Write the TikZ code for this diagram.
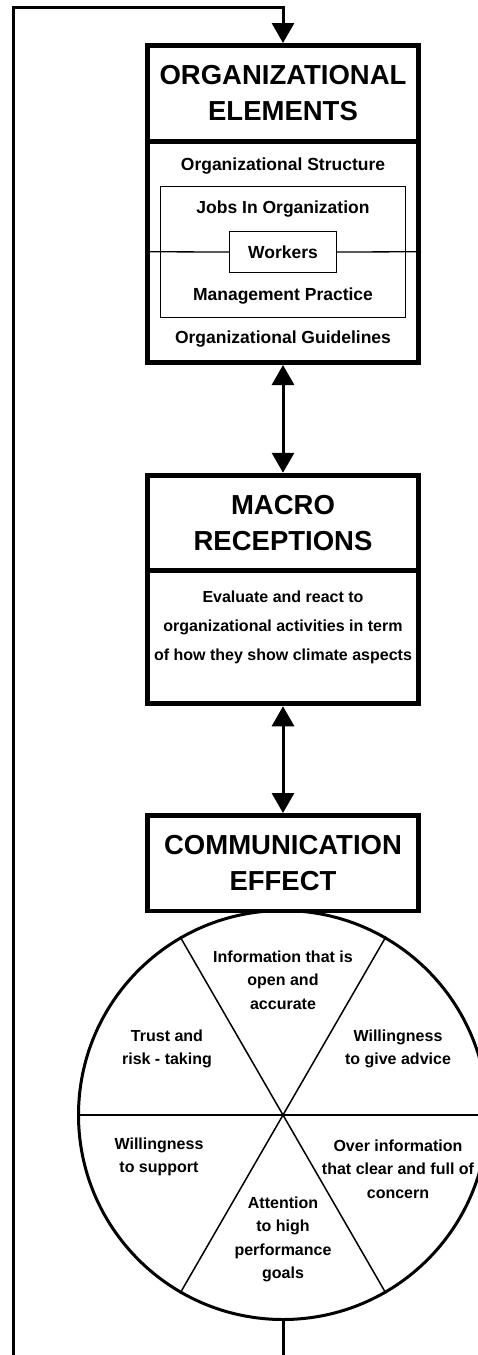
\documentclass[tikz,border=0pt]{standalone}
\usepackage{fontspec}
\setmainfont{Liberation Sans}
\usepackage{tikz}
\usetikzlibrary{arrows.meta}
\usetikzlibrary{positioning}

\tikzset{
  headbox/.style={draw, line width=5pt, minimum width=271pt, minimum height=95.5pt, inner sep=0pt, align=center, font=\fontsize{27.5}{35.5}\selectfont\bfseries},
  bodybox/.style={draw, line width=5pt, minimum width=271pt, inner sep=0pt},
  thinbox/.style={draw, line width=1.3pt, inner sep=0pt},
  itemtext/.style={inner sep=0pt, font=\fontsize{17.5}{21}\selectfont\bfseries},
  sectortext/.style={inner sep=0pt, align=center, font=\fontsize{16}{23.5}\selectfont\bfseries},
  spoke/.style={line width=1.5pt},
  flow/.style={line width=3pt, -{Triangle[length=20pt,width=22pt]}},
  twoway/.style={line width=3pt, {Triangle[length=20pt,width=22pt]}-{Triangle[length=20pt,width=22pt]}}
}

\begin{document}
\begin{tikzpicture}[x=1pt, y=-1pt]

\useasboundingbox (0,0) rectangle (478,1355);
\clip (0,0) rectangle (478,1355);

\node[headbox] (orghead) at (283, 93.25) {ORGANIZATIONAL\\ELEMENTS};
\node[bodybox, minimum height=221.5pt] (orgbody) at (283, 251.75) {};
\node[itemtext] (structure) at (283, 166) {Organizational Structure};
\node[thinbox, minimum width=245pt, minimum height=131pt] (jobsframe) at (283, 252) {};
\node[itemtext] (jobs) at (283, 209) {Jobs In Organization};
\node[thinbox, itemtext, minimum width=107pt, minimum height=41pt] (workers) at (283, 252) {Workers};
\node[itemtext] (practice) at (283, 296) {Management Practice};
\node[itemtext] (guidelines) at (283, 339) {Organizational Guidelines};
\draw[line width=1.3pt] (orgbody.west) -- (workers.west);
\draw[line width=1.3pt] (workers.east) -- (orgbody.east);

\node[headbox] (macrohead) at (283, 523) {MACRO\\RECEPTIONS};
\node[bodybox, minimum height=133pt] (macrobody) at (283, 637.25) {};
\node[sectortext, font=\fontsize{16}{29}\selectfont\bfseries] (macrotext) at (283, 627) {Evaluate and react to\\organizational activities in term\\of how they show climate aspects};

\node[draw, circle, line width=3pt, minimum size=409pt, inner sep=0pt] (wheel) at (283, 1115) {};
\node[headbox, line width=4.5pt] (commhead) at (283, 863) {COMMUNICATION\\EFFECT};

\draw[spoke] (wheel.180) -- (wheel.0);
\draw[spoke] (wheel.120) -- (wheel.300);
\draw[spoke] (wheel.60) -- (wheel.240);

\node[sectortext] (openinfo) at (283, 980) {Information that is\\open and\\accurate};
\node[sectortext] (trust) at (167, 1049) {Trust and\\risk - taking};
\node[sectortext] (advice) at (398, 1049) {Willingness\\to give advice};
\node[sectortext] (support) at (159, 1157) {Willingness\\to support};
\node[sectortext] (concern) at (398, 1169) {Over information\\that clear and full of\\concern};
\node[sectortext] (goals) at (283, 1239.5) {Attention\\to high\\performance\\goals};

\draw[twoway] (orgbody.south) -- (macrohead.north);
\draw[twoway] (macrobody.south) -- (commhead.north);

\coordinate (loopbottom) at (13.5, 1390);
\coordinate (looptop) at (13.5, 7.5);
\draw[flow] (wheel.south) |- (loopbottom) -- (looptop) -| (orghead.north);

\end{tikzpicture}
\end{document}
